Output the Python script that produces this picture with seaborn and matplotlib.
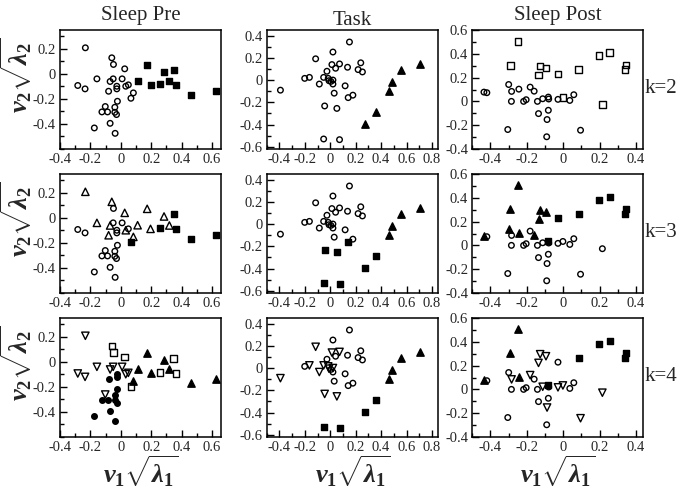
import numpy as np
import pandas as pd
import seaborn as sns
import matplotlib
matplotlib.use('Agg')
import matplotlib.pyplot as plt
from matplotlib.ticker import MultipleLocator, FuncFormatter

# cluster codes: o open circle, O filled circle, s open square, S filled square,
# t open triangle, T filled triangle, v open down-triangle

# ---- Sleep Pre ----
pre_x = [-0.233, -0.283, -0.235, -0.157, -0.059, -0.048, -0.050, -0.070, -0.080, -0.026,
         -0.026, 0.009, 0.026, 0.033, 0.050, 0.083, 0.067, -0.022, -0.102, -0.124,
         -0.087, -0.039, -0.039, -0.028, -0.070, -0.174, -0.037,
         0.111, 0.174, 0.196, 0.257, 0.285, 0.320, 0.348, 0.365, 0.463, 0.630]
pre_y = [0.208, -0.093, -0.120, -0.040, 0.128, 0.075, -0.040, -0.061, -0.139, -0.099,
         -0.120, -0.040, 0.040, -0.099, -0.088, -0.152, -0.195, -0.219, -0.261, -0.304,
         -0.304, -0.267, -0.307, -0.325, -0.395, -0.432, -0.475,
         -0.059, 0.072, -0.088, -0.085, 0.011, -0.061, 0.027, -0.093, -0.168, -0.136]
pre_k2 = list("ooooooooooooooooooooooooooo" "SSSSSSSSSS")
pre_k3 = list("toottoottooottotSoooooooooo" "tttSttSSSS")
pre_k4 = list("vvvvssvvOOOvsvvTsOvOOOOOOOO" "TTTsTTssTT")

# ---- Task ----
task_x = [0.151, 0.021, -0.115, 0.013, 0.073, 0.042, -0.026, 0.136, 0.240, 0.219,
          0.253, -0.201, -0.164, -0.052, -0.016, -0.010, 0.005, 0.021, 0.021, -0.086,
          0.117, 0.031, 0.178, 0.141, -0.392, -0.044, 0.052, -0.052, 0.073,
          0.274, 0.363, 0.465, 0.483, 0.556, 0.708]
task_y = [0.342, 0.252, 0.191, 0.139, 0.145, 0.106, 0.079, 0.115, 0.155, 0.094,
          0.073, 0.015, 0.024, 0.024, 0.015, -0.006, -0.012, 0.000, -0.036, -0.036,
          -0.052, -0.118, -0.136, -0.158, -0.091, -0.233, -0.255, -0.530, -0.536,
          -0.394, -0.285, -0.097, -0.015, 0.091, 0.145]
task_k2 = list("ooooooooooooooooooooooooooooo" "TTTTTT")
task_k3 = list("oooooooooooooooooooooooSoSSSS" "SSTTTT")
task_k4 = list("oovvvooooooovvvvovovoooovvvSS" "SSTTTT")

# ---- Sleep Post ----
post_x = [-0.249, -0.291, -0.127, -0.095, -0.136, -0.029, 0.085, 0.196, 0.255, 0.344,
          0.340, -0.002, 0.215,
          -0.436, -0.420, -0.300, -0.284, -0.285, -0.244, -0.182, -0.160, -0.218, -0.204,
          -0.142, -0.113, -0.082, -0.080, -0.082, -0.136, -0.089, -0.029, 0.036, 0.058,
          -0.305, -0.091, 0.095]
post_y = [0.505, 0.304, 0.296, 0.279, 0.223, 0.229, 0.268, 0.385, 0.410, 0.307,
          0.268, 0.033, -0.028,
          0.078, 0.073, 0.142, 0.084, 0.000, 0.103, 0.120, 0.086, 0.000, 0.014,
          0.000, 0.022, 0.036, 0.020, -0.075, -0.103, -0.153, 0.017, 0.008, 0.056,
          -0.237, -0.298, -0.243]
post_k2 = list("sssssssssssss" "ooooooooooooooooooooooo")
post_k3 = list("TTTTTSSSSSSoo" "ToTooToTooooSoooooooooo")
post_k4 = list("TTvvvoSSSSSvv" "ToovoTvoooovSooovvoooov")

col_titles = ["Sleep Pre", "Task", "Sleep Post"]
row_labels = ["k=2", "k=3", "k=4"]

MARKERS = {
    'o': ('o', 'none', 16), 'O': ('o', 'black', 16),
    's': ('s', 'none', 22), 'S': ('s', 'black', 22),
    't': ('^', 'none', 28), 'T': ('^', 'black', 28),
    'v': ('v', 'none', 28),
}

sns.set_theme(style="ticks")
plt.rcParams['font.family'] = ['Liberation Serif', 'DejaVu Serif']
plt.rcParams['mathtext.fontset'] = 'custom'
plt.rcParams['mathtext.it'] = 'Liberation Serif:italic:bold'
plt.rcParams['mathtext.rm'] = 'Liberation Serif:bold'
plt.rcParams['mathtext.bf'] = 'Liberation Serif:bold'
plt.rcParams['axes.unicode_minus'] = False

W, H = 685, 488
fig = plt.figure(figsize=(W / 100, H / 100), dpi=100)

col_left = [60, 266.7, 472.3]
col_right = [221, 438.3, 643.3]
row_top = [30, 174, 318]
ax_h = 119

panels = [
    (pre_x, pre_y, [pre_k2, pre_k3, pre_k4], (-0.4, 0.66), (-0.6, 0.35),
     [-0.4, -0.2, 0, 0.2, 0.4, 0.6], [-0.4, -0.2, 0, 0.2]),
    (task_x, task_y, [task_k2, task_k3, task_k4], (-0.5, 0.85), (-0.62, 0.45),
     [-0.4, -0.2, 0, 0.2, 0.4, 0.6, 0.8], [-0.6, -0.4, -0.2, 0, 0.2, 0.4]),
    (post_x, post_y, [post_k2, post_k3, post_k4], (-0.5, 0.44), (-0.401, 0.601),
     [-0.4, -0.2, 0, 0.2, 0.4], [-0.4, -0.2, 0, 0.2, 0.4, 0.6]),
]

fmt = FuncFormatter(lambda v, p: '0' if abs(v) < 1e-9 else f'{v:.1f}')
ylab = r'$v_2\sqrt{\lambda_2}$'
xlab = r'$v_1\sqrt{\lambda_1}$'

for c, (xs, ys, ks, xlim, ylim, xt, yt) in enumerate(panels):
    for r, k in enumerate(ks):
        left = col_left[c] / W
        width = (col_right[c] - col_left[c]) / W
        bottom = (H - row_top[r] - ax_h) / H
        ax = fig.add_axes([left, bottom, width, ax_h / H])
        df = pd.DataFrame({'x': xs, 'y': ys, 'grp': k})
        for code, sub in df.groupby('grp'):
            m, fc, s = MARKERS[code]
            sns.scatterplot(data=sub, x='x', y='y', marker=m, s=s, facecolor=fc,
                            edgecolor='black', linewidth=1.0, ax=ax, legend=False)
        ax.set_xlim(*xlim)
        ax.set_ylim(*ylim)
        ax.set_xticks(xt)
        ax.set_yticks(yt)
        ax.xaxis.set_minor_locator(MultipleLocator(0.1))
        ax.yaxis.set_minor_locator(MultipleLocator(0.1))
        ax.xaxis.set_major_formatter(fmt)
        ax.yaxis.set_major_formatter(fmt)
        ax.tick_params(which='both', direction='in', top=False, right=False,
                       width=1.0, color='black', labelsize=10.5, pad=3)
        ax.tick_params(which='major', length=5)
        ax.tick_params(which='minor', length=3)
        for sp in ax.spines.values():
            sp.set_linewidth(1.1)
            sp.set_color('black')
        ax.set_xlabel('')
        ax.set_ylabel('')
        if r == 0:
            ax.set_title(col_titles[c], fontsize=15, pad=7 if c != 1 else 2)
        if c == 0:
            ax.text(-0.27, 0.62, ylab, transform=ax.transAxes, rotation=90,
                    ha='center', va='center', fontsize=19)
        if c == 2:
            ax.text(1.01, 0.51, row_labels[r], transform=ax.transAxes,
                    ha='left', va='center', fontsize=15)
        if r == 2:
            ax.text(0.5, -0.29, xlab, transform=ax.transAxes,
                    ha='center', va='center', fontsize=19)

fig.savefig('out.png', dpi=100)
